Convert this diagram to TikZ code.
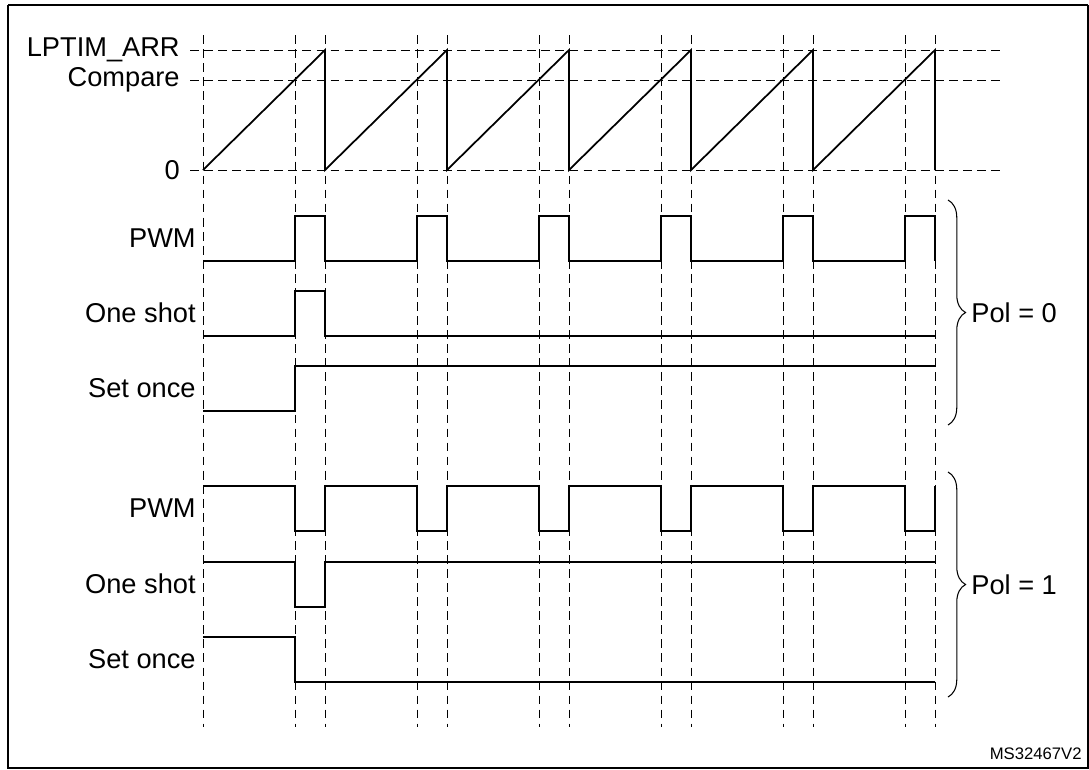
\documentclass[tikz,border=0pt]{standalone}
\usepackage{fontspec}
\setmainfont{Liberation Sans}
\usetikzlibrary{positioning}
\usetikzlibrary{decorations.pathreplacing}

\begin{document}
\begin{tikzpicture}[x=0.02cm, y=-0.02cm, every node/.style={font=\fontsize{15.5}{17}\selectfont},
  grid/.style={dash pattern=on 5pt off 3pt, line width=0.5pt},
  sig/.style={line width=1pt},
  lbl/.style={anchor=east, inner sep=0pt},
  brace/.style={decorate, decoration={brace, amplitude=10pt}, line width=0.6pt}]

        \useasboundingbox (0,0) rectangle (1089,769);
        \draw[line width=1pt] (8,5) -- (1088,5);
        \draw[line width=0.8pt] (8,5) -- (8,768) -- (1088,768) -- (1088,5);

        % grid
        \foreach \x in {203,295,325,417,447,539,569,661,691,783,813,905,935}
          \draw[grid] (\x,35) -- (\x,727);
        \foreach \y in {50,80,170}
          \draw[grid] (190,\y) -- (1005,\y);

        \node[lbl]  (arr) at (180,50)  {LPTIM\_ARR};
        \node[lbl]  (cmp) at (180,80)  {Compare};
        \node[lbl]  (zero) at (180,170) {0};

        % counter
        \draw[sig] (203,170) \foreach \i in {0,...,5} { -- ({325+122*\i},50) -- ({325+122*\i},170) };

        % Pol = 0
        \node[lbl] (pwm0) at (196,238) {PWM};
        \node[lbl] (os0)  at (196,313) {One shot};
        \node[lbl] (so0)  at (196,388) {Set once};
        \draw[sig] (203,261) \foreach \i in {0,...,5} { -- ({295+122*\i},261) -- ({295+122*\i},216) -- ({325+122*\i},216) -- ({325+122*\i},261) } -- (935,261);
        \draw[sig] (203,336) -- (295,336) -- (295,291) -- (325,291) -- (325,336) -- (935,336);
        \draw[sig] (203,411) -- (295,411) -- (295,366) -- (935,366);

        % Pol = 1
        \node[lbl] (pwm1) at (196,508) {PWM};
        \node[lbl] (os1)  at (196,584) {One shot};
        \node[lbl] (so1)  at (196,659) {Set once};
        \draw[sig] (203,486) \foreach \i in {0,...,5} { -- ({295+122*\i},486) -- ({295+122*\i},531) -- ({325+122*\i},531) -- ({325+122*\i},486) } -- (935,486);
        \draw[sig] (203,562) -- (295,562) -- (295,607) -- (325,607) -- (325,562) -- (935,562);
        \draw[sig] (203,637) -- (295,637) -- (295,682) -- (935,682);

        % braces
        \coordinate (b0t) at (948,200);
        \coordinate (b0b) at (948,425);
        \coordinate (b1t) at (948,472);
        \coordinate (b1b) at (948,697);
        \draw[brace] (b0t) -- (b0b) node[midway, right=13pt, inner sep=0pt] (pol0) {Pol = 0};
        \draw[brace] (b1t) -- (b1b) node[midway, right=13pt, inner sep=0pt] (pol1) {Pol = 1};

        \node[anchor=south east, inner sep=0pt, font=\fontsize{9.5}{10}\selectfont] (ref) at (1082,760) {MS32467V2};

\end{tikzpicture}
\end{document}
